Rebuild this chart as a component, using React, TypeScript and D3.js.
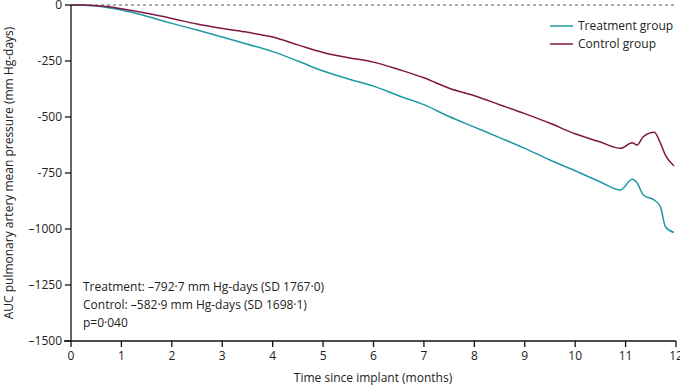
import React from "react";
import * as d3 from "d3";

const months = [0, 0.25, 0.5, 0.75, 1, 1.5, 2, 2.5, 3, 3.5, 4, 4.5, 5, 5.5, 6, 6.5, 7, 7.5, 8, 8.5, 9, 9.5, 10, 10.5, 10.9, 11.13, 11.23, 11.35, 11.57, 11.69, 11.79, 11.96];
const treatment = [0, -1, -5, -12, -22, -50, -82, -112, -143, -175, -208, -250, -295, -330, -362, -405, -445, -498, -545, -592, -640, -692, -740, -790, -826, -778, -795, -848, -871, -900, -990, -1016];
const control = [0, 0, -3, -8, -17, -37, -60, -85, -105, -122, -143, -178, -212, -235, -255, -288, -325, -372, -405, -445, -485, -528, -575, -612, -640, -615, -625, -588, -568, -616, -670, -719];

const yTicks = [0, -250, -500, -750, -1000, -1250, -1500];
const yTickLabels = ["0", "-250", "-500", "-750", "\u20131000", "\u20131250", "\u20131500"];
const xTicks = [0, 1, 2, 3, 4, 5, 6, 7, 8, 9, 10, 11, 12];
const seriesNames = ["Treatment group", "Control group"];
const seriesColors = ["#1f98a6", "#7e1742"];
const annotations = [
  "Treatment: \u2013792\u00b77 mm Hg-days (SD 1767\u00b70)",
  "Control: \u2013582\u00b79 mm Hg-days (SD 1698\u00b71)",
  "p=0\u00b7040",
];

const FONT = "'Open Sans', 'Noto Sans', sans-serif";

export default function App() {
  const W = 680, H = 388;
  const x = d3.scaleLinear().domain([0, 12]).range([71, 676]);
  const y = d3.scaleLinear().domain([0, -1500]).range([5, 341]);
  const line = d3
    .line<[number, number]>()
    .x((d) => x(d[0]))
    .y((d) => y(d[1]))
    .curve(d3.curveMonotoneX);
  const series = [treatment, control].map((vals) => months.map((m, i) => [m, vals[i]] as [number, number]));

  return (
    <svg width={W} height={H} style={{ position: "absolute", left: 0, top: 0, background: "#fff" }} fontFamily={FONT}>
      <rect width={W} height={H} fill="#fff" />
      {/* zero dashed line */}
      <line x1={x(0)} x2={x(12)} y1={y(0)} y2={y(0)} stroke="#555" strokeWidth={1} strokeDasharray="3,3" />
      {/* series */}
      {series.map((s, i) => (
        <path key={i} d={line(s) || ""} fill="none" stroke={seriesColors[i]} strokeWidth={1.5} />
      ))}
      {/* y axis */}
      <line x1={x(0)} x2={x(0)} y1={y(0)} y2={y(-1500)} stroke="#111" strokeWidth={1.3} />
      {yTicks.map((t, i) => (
        <g key={t}>
          <line x1={x(0) - 6} x2={x(0)} y1={y(t)} y2={y(t)} stroke="#111" strokeWidth={1.3} />
          <text x={x(0) - 9} y={y(t)} dy="0.35em" textAnchor="end" fontSize={12} fill="#222">
            {yTickLabels[i]}
          </text>
        </g>
      ))}
      {/* x axis */}
      <line x1={x(0) - 7} x2={x(12)} y1={y(-1500)} y2={y(-1500)} stroke="#111" strokeWidth={1.3} />
      {xTicks.map((t) => (
        <g key={t}>
          <line x1={x(t)} x2={x(t)} y1={y(-1500)} y2={y(-1500) + 6} stroke="#111" strokeWidth={1.3} />
          <text x={x(t)} y={y(-1500) + 19} textAnchor="middle" fontSize={12} fill="#222">
            {t}
          </text>
        </g>
      ))}
      <text x={373} y={382} textAnchor="middle" fontSize={12} fill="#222">
        Time since implant (months)
      </text>
      <text transform={`translate(13,${y(-750)}) rotate(-90)`} textAnchor="middle" fontSize={12} fill="#222">
        AUC pulmonary artery mean pressure (mm Hg-days)
      </text>
      {/* legend */}
      {seriesNames.map((n, i) => (
        <g key={n}>
          <line x1={550} x2={573} y1={26 + i * 18} y2={26 + i * 18} stroke={seriesColors[i]} strokeWidth={1.5} />
          <text x={578} y={26 + i * 18} dy="0.35em" fontSize={12} fill="#222">
            {n}
          </text>
        </g>
      ))}
      {/* annotations */}
      {annotations.map((a, i) => (
        <text key={i} x={83} y={291 + i * 18} fontSize={12} fill="#222">
          {a}
        </text>
      ))}
    </svg>
  );
}
